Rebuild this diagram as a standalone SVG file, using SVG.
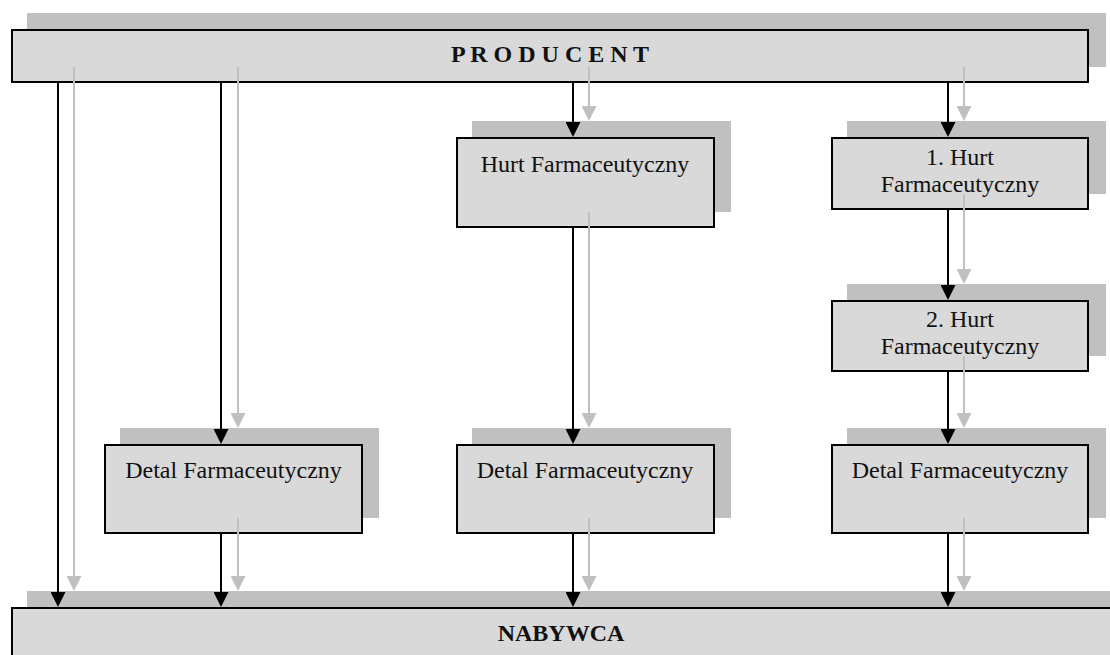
<svg xmlns="http://www.w3.org/2000/svg" width="1110" height="655" viewBox="0 0 1110 655">
  <style>
    .shadow { fill: #c0c0c0; }
    .box { fill: #d9d9d9; stroke: #000; stroke-width: 2; }
    .label { font-family: "Liberation Serif", "Times New Roman", serif; font-size: 24px; fill: #111; text-anchor: middle; }
    .bold { font-weight: bold; }
    .flow { stroke: #000; stroke-width: 2; fill: none; marker-end: url(#headBlack); }
    .flow-shadow { stroke: #c0c0c0; stroke-width: 2; fill: none; marker-end: url(#headGray); }
  </style>
  <defs>
    <marker id="headBlack" markerUnits="userSpaceOnUse" markerWidth="15" markerHeight="15" viewBox="0 0 15 15" refX="10" refY="7.5" orient="auto">
      <path d="M0,0 L15,7.5 L0,15 Z" fill="#000"/>
    </marker>
    <marker id="headGray" markerUnits="userSpaceOnUse" markerWidth="15" markerHeight="15" viewBox="0 0 15 15" refX="10" refY="7.5" orient="auto">
      <path d="M0,0 L15,7.5 L0,15 Z" fill="#c0c0c0"/>
    </marker>
  </defs>

  <rect width="1110" height="655" fill="#fff"/>

  <!-- Producer -->
  <g id="producent">
    <rect class="shadow" x="27" y="13" width="1079" height="54"/>
    <rect class="box" x="12" y="30" width="1076" height="52"/>
    <text class="label bold" x="550" y="62">P R O D U C E N T</text>
  </g>

  <!-- Wholesaler (single-tier channel) -->
  <g id="hurt">
    <rect class="shadow" x="472" y="121" width="259" height="91"/>
    <rect class="box" x="457" y="138" width="257" height="89"/>
    <text class="label" x="585" y="172">Hurt Farmaceutyczny</text>
  </g>

  <!-- First wholesaler (two-tier channel) -->
  <g id="hurt-1">
    <rect class="shadow" x="847" y="121" width="259" height="73"/>
    <rect class="box" x="832" y="138" width="256" height="71"/>
    <text class="label" x="960" y="165">1. Hurt</text>
    <text class="label" x="960" y="192">Farmaceutyczny</text>
  </g>

  <!-- Second wholesaler (two-tier channel) -->
  <g id="hurt-2">
    <rect class="shadow" x="847" y="284" width="259" height="72"/>
    <rect class="box" x="832" y="301" width="256" height="70"/>
    <text class="label" x="960" y="327">2. Hurt</text>
    <text class="label" x="960" y="354">Farmaceutyczny</text>
  </g>

  <!-- Retailers -->
  <g id="detal-1">
    <rect class="shadow" x="120" y="428" width="259" height="90"/>
    <rect class="box" x="105" y="445" width="257" height="88"/>
    <text class="label" x="233.5" y="478">Detal Farmaceutyczny</text>
  </g>
  <g id="detal-2">
    <rect class="shadow" x="472" y="428" width="259" height="90"/>
    <rect class="box" x="457" y="445" width="257" height="88"/>
    <text class="label" x="585" y="478">Detal Farmaceutyczny</text>
  </g>
  <g id="detal-3">
    <rect class="shadow" x="847" y="428" width="259" height="90"/>
    <rect class="box" x="832" y="445" width="256" height="88"/>
    <text class="label" x="960" y="478">Detal Farmaceutyczny</text>
  </g>

  <!-- Buyer -->
  <g id="nabywca">
    <rect class="shadow" x="27" y="591" width="1100" height="80"/>
    <rect class="box" x="12" y="608" width="1110" height="70"/>
    <text class="label bold" x="561" y="641">NABYWCA</text>
  </g>

  <!-- Connectors: grey shadow arrows first, then black arrows -->
  <g id="connectors">
    <g id="connector-shadows">
      <line class="flow-shadow" x1="74" y1="67" x2="74" y2="586"/>
      <line class="flow-shadow" x1="238" y1="67" x2="238" y2="423"/>
      <line class="flow-shadow" x1="238" y1="518" x2="238" y2="586"/>
      <line class="flow-shadow" x1="589" y1="67" x2="589" y2="116"/>
      <line class="flow-shadow" x1="589" y1="212" x2="589" y2="423"/>
      <line class="flow-shadow" x1="589" y1="518" x2="589" y2="586"/>
      <line class="flow-shadow" x1="964" y1="67" x2="964" y2="116"/>
      <line class="flow-shadow" x1="964" y1="194" x2="964" y2="279"/>
      <line class="flow-shadow" x1="964" y1="356" x2="964" y2="423"/>
      <line class="flow-shadow" x1="964" y1="518" x2="964" y2="586"/>
    </g>
    <g id="connector-lines">
      <line class="flow" x1="58" y1="83" x2="58" y2="602"/>
      <line class="flow" x1="221" y1="83" x2="221" y2="439"/>
      <line class="flow" x1="221" y1="534" x2="221" y2="602"/>
      <line class="flow" x1="573" y1="83" x2="573" y2="132"/>
      <line class="flow" x1="573" y1="228" x2="573" y2="439"/>
      <line class="flow" x1="573" y1="534" x2="573" y2="602"/>
      <line class="flow" x1="948" y1="83" x2="948" y2="132"/>
      <line class="flow" x1="948" y1="210" x2="948" y2="295"/>
      <line class="flow" x1="948" y1="372" x2="948" y2="439"/>
      <line class="flow" x1="948" y1="534" x2="948" y2="602"/>
    </g>
  </g>
</svg>
